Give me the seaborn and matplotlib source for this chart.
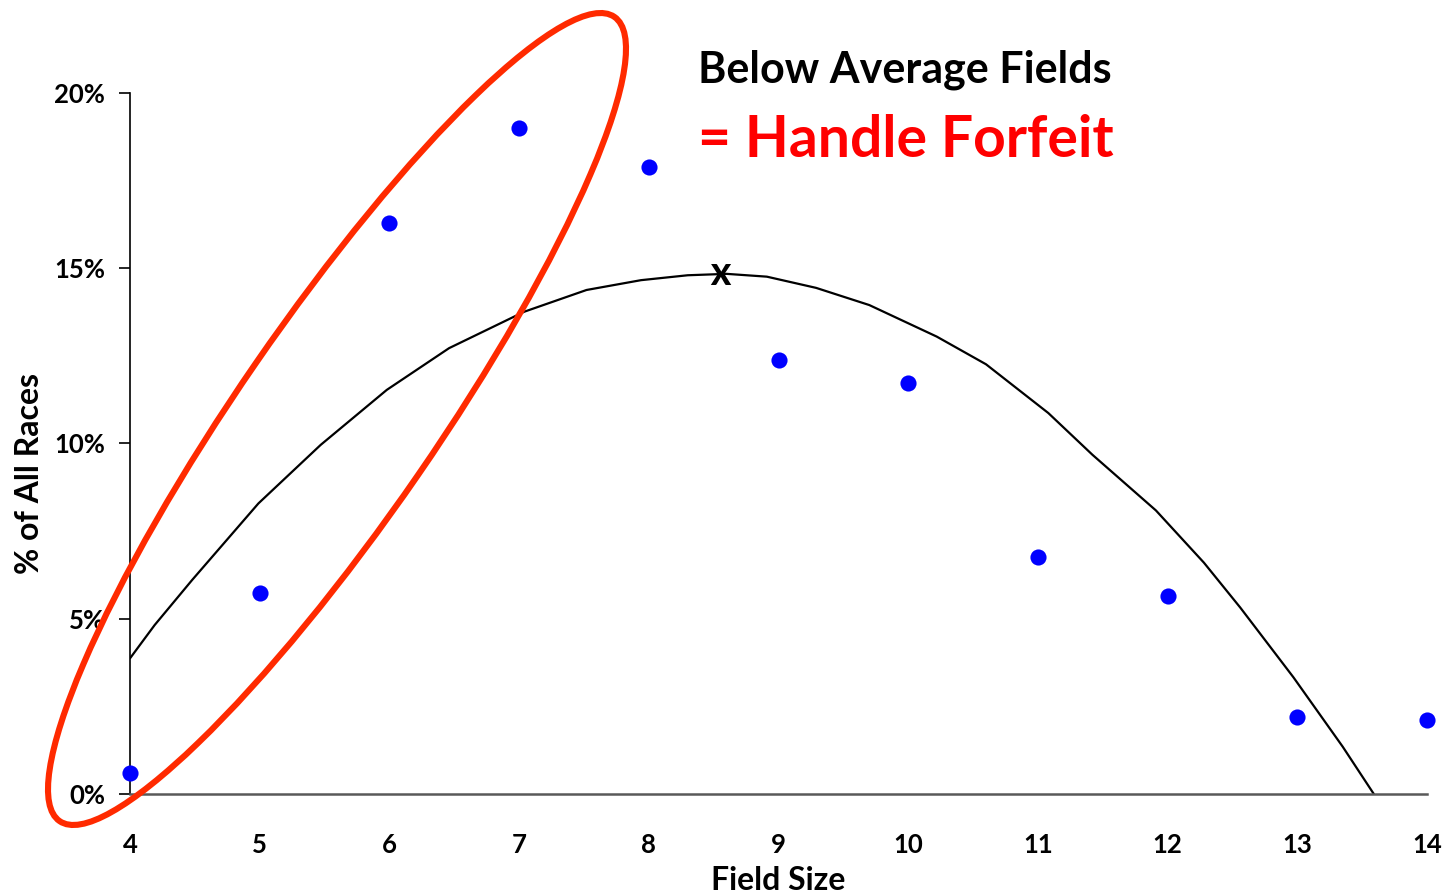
import matplotlib
matplotlib.use("Agg")
import matplotlib.pyplot as plt
from matplotlib.patches import Ellipse
import seaborn as sns
import pandas as pd

# ---- data ----
field_size = [4, 5, 6, 7, 8, 9, 10, 11, 12, 13, 14]
pct_races = [0.6, 5.73, 16.29, 19.0, 17.9, 12.38, 11.73, 6.76, 5.65, 2.2, 2.11]

trend_x = [4.0, 4.19, 4.48, 4.99, 5.47, 5.98, 6.46, 7.04, 7.52, 7.94, 8.30, 8.60,
           8.91, 9.29, 9.70, 10.22, 10.60, 11.08, 11.42, 11.91, 12.28, 12.56,
           12.97, 13.35, 13.59]
trend_y = [3.87, 4.82, 6.11, 8.29, 9.96, 11.53, 12.72, 13.76, 14.38, 14.66, 14.80, 14.84,
           14.76, 14.44, 13.95, 13.05, 12.26, 10.87, 9.68, 8.09, 6.60, 5.32,
           3.33, 1.35, 0.0]

mean_x = 8.55
mean_y = 14.75

x_ticks = [4, 5, 6, 7, 8, 9, 10, 11, 12, 13, 14]
y_ticks = [0, 5, 10, 15, 20]
y_tick_labels = ["0%", "5%", "10%", "15%", "20%"]

title_1 = "Below Average Fields"
title_2 = "= Handle Forfeit"
x_label = "Field Size"
y_label = "% of All Races"

# ---- plotting ----
sns.set_theme(style="white")
plt.rcParams["font.family"] = ["Lato", "DejaVu Sans"]
plt.rcParams["font.weight"] = "bold"

W, H = 1448, 893
fig = plt.figure(figsize=(W / 100, H / 100), dpi=100)
ax = fig.add_axes([130 / W, 1 - 794 / H, (1427 - 130) / W, (794 - 93) / H])

pts = pd.DataFrame({"field_size": field_size, "pct": pct_races})
trend = pd.DataFrame({"x": trend_x, "y": trend_y})

sns.lineplot(data=trend, x="x", y="y", ax=ax, color="black", linewidth=1.6,
             sort=False, estimator=None)
sns.scatterplot(data=pts, x="field_size", y="pct", ax=ax, color="#0000FF",
                s=135, linewidth=0, zorder=5, clip_on=False)

ax.text(mean_x, mean_y, "X", ha="center", va="center", fontsize=21,
        fontweight="heavy", color="black", zorder=6)

ax.set_xlim(4, 14)
ax.set_ylim(0, 20)
ax.set_xticks(x_ticks)
ax.set_xticklabels([str(v) for v in x_ticks])
ax.set_yticks(y_ticks)
ax.set_yticklabels(y_tick_labels)

ax.tick_params(axis="y", direction="out", length=8, width=1.2, color="black",
               pad=10, labelsize=18.5, left=True)
ax.tick_params(axis="x", length=0, pad=28, labelsize=18.5)
for lab in ax.get_xticklabels() + ax.get_yticklabels():
    lab.set_fontweight("bold")
    lab.set_color("black")

for s in ["top", "right"]:
    ax.spines[s].set_visible(False)
ax.spines["left"].set_color("black")
ax.spines["left"].set_linewidth(1.2)
ax.spines["bottom"].set_color("#595959")
ax.spines["bottom"].set_linewidth(1.8)

ax.set_xlabel(x_label, fontsize=23, fontweight="bold", color="black")
ax.set_ylabel(y_label, fontsize=23, fontweight="bold", color="black")
ax.xaxis.set_label_coords(0.5, -(866 - 794) / (794 - 93))
ax.yaxis.set_label_coords(-(130 - 44) / (1427 - 130), (794 - 474) / (794 - 93))

fig.text(698 / W, 1 - 82 / H, title_1, fontsize=31, fontweight="bold",
         color="black", ha="left", va="baseline")
fig.text(698 / W, 1 - 157 / H, title_2, fontsize=41, fontweight="bold",
         color="#FF0000", ha="left", va="baseline")

ell = Ellipse((337 / 100, (H - 419) / 100), width=9.77, height=1.97, angle=55.4,
              transform=fig.dpi_scale_trans, fill=False, edgecolor="#FF2A00",
              linewidth=4.4, zorder=10, clip_on=False)
fig.add_artist(ell)

fig.savefig("out.png", dpi=100, facecolor="white")
